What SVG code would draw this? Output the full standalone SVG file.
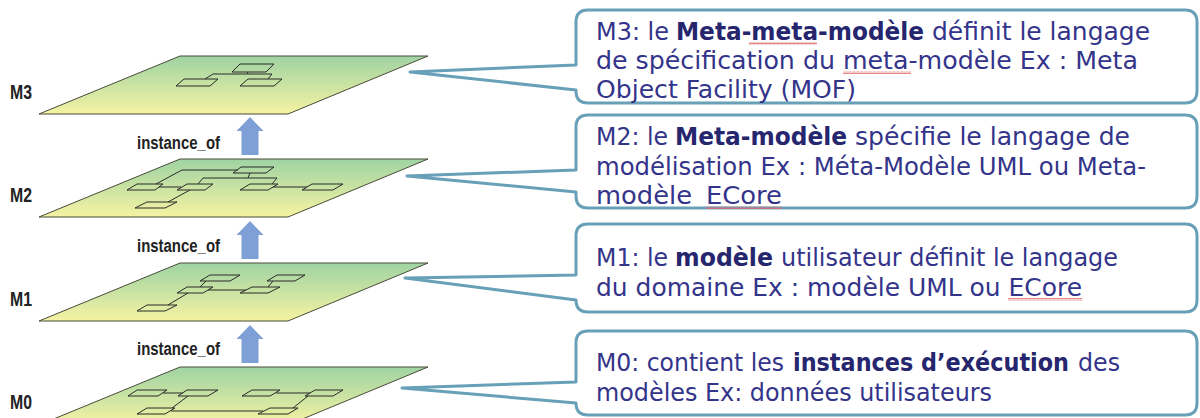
<svg xmlns="http://www.w3.org/2000/svg" width="1200" height="418" viewBox="0 0 1200 418">
<defs>
<linearGradient id="planeGrad" x1="0" y1="0" x2="0" y2="1">
<stop offset="0" stop-color="#9fd3a3"/>
<stop offset="1" stop-color="#f5f3a2"/>
</linearGradient>
<path id="plane" d="M180,0 L428,0 L288,58 L39,58 Z"/>
<path id="upArrow" d="M250,0 L263.5,14 L258.5,14 L258.5,38 L241.5,38 L241.5,14 L236.5,14 Z"/>
<pattern id="squiggle" patternUnits="userSpaceOnUse" width="4" height="3">
<path d="M0,2.5 L1,0.5 L2,2.5 L3,0.5 L4,2.5" fill="none" stroke="#e06a6a" stroke-width="0.8"/>
</pattern>
</defs>
<style>
.plane{fill:url(#planeGrad);stroke:#4a4a3a;stroke-width:1}
.node{fill:none;stroke:#2a2a2a;stroke-width:1}
.link{fill:none;stroke:#2a2a2a;stroke-width:1}
.lvl{font-family:"Liberation Sans",Arial,sans-serif;font-weight:bold;font-size:20px;fill:#222}
.inst{font-family:"Liberation Sans",Arial,sans-serif;font-weight:bold;font-size:18px;fill:#222}
.arrow{fill:#7ea0d6}
.callout{fill:#ffffff;stroke:#68a0b8;stroke-width:3;stroke-linejoin:round}
.txt{font-family:"DejaVu Sans","Liberation Sans",sans-serif;font-size:24px;fill:#33348a}
.b{font-weight:bold;fill:#26266e}
.sq{fill:url(#squiggle)}
</style>

<g id="layer-M3">
<use href="#plane" class="plane" y="56"/>
<text class="lvl" x="10" y="99" textLength="22" lengthAdjust="spacingAndGlyphs">M3</text>
<polygon class="node" points="240,64 274,64 266,72 232,72"/>
<polygon class="node" points="184,79 218,79 210,86 176,86"/>
<polygon class="node" points="248,79 282,79 274,86 240,86"/>
<path class="link" d="M205,79 L213,74 L272,74 L268,79 M248,72 L247,74"/>
</g>

<g id="layer-M2">
<use href="#plane" class="plane" y="159"/>
<text class="lvl" x="10" y="202" textLength="22" lengthAdjust="spacingAndGlyphs">M2</text>
<polygon class="node" points="241,167 274,167 266,173 233,173"/>
<polygon class="node" points="137,184 163,184 155,190 127,190"/>
<polygon class="node" points="187,184 213,184 205,190 177,190"/>
<polygon class="node" points="250,184 278,184 268,190 240,190"/>
<polygon class="node" points="312,184 343,184 333,190 302,190"/>
<polygon class="node" points="147,202 177,202 165,208 135,208"/>
<path class="link" d="M156,184 L182,170 L238,170 M198,184 L203,178 L277,178 L272,184 M250,173 L248,178 M159,187 L181,187 M273,187 L307,187 M190,190 L168,202"/>
</g>

<g id="layer-M1">
<use href="#plane" class="plane" y="263"/>
<text class="lvl" x="10" y="306" textLength="22" lengthAdjust="spacingAndGlyphs">M1</text>
<polygon class="node" points="210,275 240,275 230,281 200,281"/>
<polygon class="node" points="277,275 305,275 295,281 267,281"/>
<polygon class="node" points="187,287 213,287 203,293 177,293"/>
<polygon class="node" points="252,287 280,287 268,293 240,293"/>
<polygon class="node" points="147,305 177,305 165,311 137,311"/>
<path class="link" d="M206,281 L200,287 M273,281 L268,287 M208,290 L246,290 M188,293 L168,305"/>
</g>

<g id="layer-M0">
<use href="#plane" class="plane" y="367"/>
<text class="lvl" x="10" y="409" textLength="22" lengthAdjust="spacingAndGlyphs">M0</text>
<polygon class="node" points="137,390 167,390 158,396 128,396"/>
<polygon class="node" points="187,390 218,390 208,396 178,396"/>
<polygon class="node" points="252,390 280,390 270,396 242,396"/>
<polygon class="node" points="315,390 343,390 333,396 305,396"/>
<polygon class="node" points="147,408 175,408 165,414 137,414"/>
<polygon class="node" points="270,408 298,408 288,414 258,414"/>
<path class="link" d="M163,393 L183,393 M276,393 L310,393 M188,396 L172,408 M171,411 L263,411 M308,396 L293,408"/>
</g>

<g id="connectors">
<use href="#upArrow" class="arrow" y="117"/>
<use href="#upArrow" class="arrow" y="221"/>
<use href="#upArrow" class="arrow" y="325"/>
<text class="inst" x="137" y="149" textLength="83" lengthAdjust="spacingAndGlyphs">instance_of</text>
<text class="inst" x="137" y="252" textLength="83" lengthAdjust="spacingAndGlyphs">instance_of</text>
<text class="inst" x="137" y="355" textLength="83" lengthAdjust="spacingAndGlyphs">instance_of</text>
</g>

<g id="callout-M3">
<path class="callout" d="M588,10 H1185 Q1197,10 1197,22 V91 Q1197,103 1185,103 H588 Q576,103 576,91 L576,90 L410,72 L576,65 V22 Q576,10 588,10 Z"/>
<text class="txt" x="596" y="40" textLength="73" lengthAdjust="spacingAndGlyphs">M3: le</text>
<text class="txt b" x="676" y="40" textLength="248" lengthAdjust="spacingAndGlyphs">Meta-meta-modèle</text>
<text class="txt" x="932" y="40" textLength="218" lengthAdjust="spacingAndGlyphs">définit le langage</text>
<text class="txt" x="596" y="69" textLength="542" lengthAdjust="spacingAndGlyphs">de spécification du meta-modèle Ex : Meta</text>
<text class="txt" x="596" y="98" textLength="260" lengthAdjust="spacingAndGlyphs">Object Facility (MOF)</text>
<rect class="sq" x="749" y="42" width="68" height="3"/>
<rect class="sq" x="843" y="71" width="68" height="3"/>
</g>

<g id="callout-M2">
<path class="callout" d="M588,115 H1185 Q1197,115 1197,127 V196 Q1197,208 1185,208 H588 Q576,208 576,196 L576,192 L407,176 L576,170 V127 Q576,115 588,115 Z"/>
<text class="txt" x="596" y="145" textLength="72" lengthAdjust="spacingAndGlyphs">M2: le</text>
<text class="txt b" x="675" y="145" textLength="172" lengthAdjust="spacingAndGlyphs">Meta-modèle</text>
<text class="txt" x="855" y="145" textLength="275" lengthAdjust="spacingAndGlyphs">spécifie le langage de</text>
<text class="txt" x="596" y="175" textLength="550" lengthAdjust="spacingAndGlyphs">modélisation  Ex : Méta-Modèle UML ou Meta-</text>
<text class="txt" x="596" y="204" textLength="96" lengthAdjust="spacingAndGlyphs">modèle</text>
<text class="txt" x="706" y="204" textLength="76" lengthAdjust="spacingAndGlyphs">ECore</text>
<rect class="sq" x="706" y="206" width="76" height="3"/>
</g>

<g id="callout-M1">
<path class="callout" d="M588,224 H1185 Q1197,224 1197,236 V300 Q1197,312 1185,312 H588 Q576,312 576,300 L576,300 L405,278 L576,275 V236 Q576,224 588,224 Z"/>
<text class="txt" x="596" y="266" textLength="72" lengthAdjust="spacingAndGlyphs">M1: le</text>
<text class="txt b" x="675" y="266" textLength="98" lengthAdjust="spacingAndGlyphs">modèle</text>
<text class="txt" x="781" y="266" textLength="337" lengthAdjust="spacingAndGlyphs">utilisateur définit le langage</text>
<text class="txt" x="596" y="296" textLength="486" lengthAdjust="spacingAndGlyphs">du domaine Ex : modèle UML ou ECore</text>
<rect class="sq" x="1008" y="298" width="74" height="3"/>
</g>

<g id="callout-M0">
<path class="callout" d="M588,331 H1185 Q1197,331 1197,343 V403 Q1197,415 1185,415 H588 Q576,415 576,403 L576,403 L402,388 L576,382 V343 Q576,331 588,331 Z"/>
<text class="txt" x="596" y="371" textLength="188" lengthAdjust="spacingAndGlyphs">M0: contient les</text>
<text class="txt b" x="793" y="371" textLength="276" lengthAdjust="spacingAndGlyphs">instances d’exécution</text>
<text class="txt" x="1078" y="371" textLength="42" lengthAdjust="spacingAndGlyphs">des</text>
<text class="txt" x="596" y="401" textLength="396" lengthAdjust="spacingAndGlyphs">modèles Ex: données utilisateurs</text>
</g>
</svg>
